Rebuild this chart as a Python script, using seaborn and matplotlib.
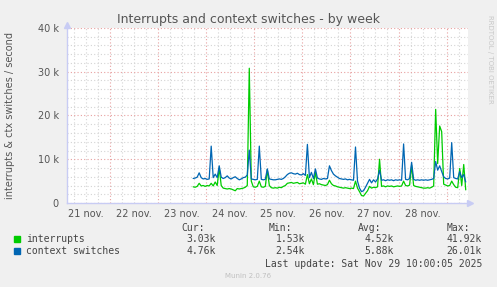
import numpy as np
import pandas as pd
import matplotlib
matplotlib.use("Agg")
import matplotlib.pyplot as plt
import matplotlib.dates as mdates
from matplotlib.ticker import MultipleLocator, FuncFormatter
from matplotlib.patches import Rectangle
import seaborn as sns

# ---------------- data (hourly, thousands per second) ----------------
start_time = "2025-11-23 17:30"
interrupts_k = [
    3.7, 3.6, 3.8, 4.5, 3.9, 4.0, 3.8, 4.0, 3.9, 4.5,
    3.9, 4.8, 4.0, 8.0, 4.0, 3.4, 3.3, 3.2, 3.3, 3.2,
    3.0, 2.8, 3.3, 3.2, 3.3, 3.4, 3.6, 4.0, 30.8, 5.0,
    3.7, 3.6, 3.8, 5.0, 3.7, 3.6, 3.8, 7.6, 4.0, 3.5,
    3.4, 3.5, 3.4, 3.6, 3.5, 3.8, 4.0, 4.5, 4.6, 4.7,
    4.5, 4.6, 4.7, 4.4, 4.5, 4.6, 4.3, 6.5, 4.4, 5.5,
    4.2, 7.0, 4.3, 4.4, 4.2, 4.1, 4.0, 4.2, 5.2, 4.4,
    4.0, 3.9, 3.7, 3.6, 3.5, 3.4, 3.5, 3.4, 3.3, 3.4,
    3.3, 5.0, 3.4, 2.6, 1.7, 1.6, 2.2, 2.8, 3.8, 3.4,
    3.6, 3.5, 3.7, 10.0, 3.8, 3.9, 3.7, 3.9, 3.8, 3.9,
    3.7, 3.8, 3.9, 3.8, 3.9, 5.0, 4.0, 3.9, 4.1, 8.6,
    4.0, 3.8, 3.7, 3.6, 3.5, 3.4, 3.4, 3.5, 3.4, 3.6,
    3.9, 21.4, 9.0, 17.6, 16.3, 4.3, 4.1, 3.9, 4.0, 5.0,
    4.2, 3.6, 3.5, 7.9, 4.0, 8.8, 3.0,
]
context_switches_k = [
    5.6, 5.7, 5.9, 6.9, 5.8, 5.5, 5.6, 5.4, 5.5, 13.0,
    5.8, 6.6, 5.8, 8.5, 5.9, 5.6, 5.8, 6.2, 5.7, 5.5,
    5.8, 6.0, 5.6, 5.3, 5.5, 5.8, 5.9, 6.4, 12.1, 5.5,
    5.4, 5.3, 5.4, 13.0, 5.4, 5.3, 5.4, 7.8, 5.5, 5.4,
    5.3, 5.3, 5.4, 5.5, 5.4, 5.6, 6.0, 6.5, 6.8, 6.9,
    6.7, 6.6, 6.8, 6.5, 6.4, 6.7, 6.3, 13.4, 5.8, 7.0,
    5.6, 7.8, 5.7, 5.5, 5.4, 5.6, 5.5, 5.6, 8.5, 7.4,
    6.6, 6.2, 5.9, 5.6, 5.5, 5.4, 5.5, 5.3, 5.4, 5.3,
    5.2, 12.8, 5.0, 3.4, 2.6, 2.8, 3.6, 4.5, 5.4, 4.6,
    5.3, 4.8, 5.5, 7.5, 5.2, 5.3, 5.1, 5.3, 5.2, 5.3,
    5.1, 5.3, 5.2, 5.3, 5.2, 13.5, 5.4, 5.3, 5.6, 9.3,
    5.4, 5.2, 5.3, 5.2, 5.3, 5.2, 5.3, 5.2, 5.3, 5.4,
    5.6, 9.5, 7.5, 8.5, 7.2, 6.0, 5.6, 5.5, 5.7, 13.8,
    5.8, 5.6, 5.5, 7.2, 5.8, 6.5, 4.8,
]
series_names = ["interrupts", "context switches"]
series_colors = ["#00CC00", "#0066B3"]
day_labels = ["21 nov.", "22 nov.", "23 nov.", "24 nov.",
              "25 nov.", "26 nov.", "27 nov.", "28 nov."]
y_ticks = [0, 10000, 20000, 30000, 40000]
y_tick_labels = ["0", "10 k", "20 k", "30 k", "40 k"]
legend_cur = ["3.03k", "4.76k"]
legend_min = ["1.53k", "2.54k"]
legend_avg = ["4.52k", "5.88k"]
legend_max = ["41.92k", "26.01k"]
view_start = "2025-11-21 02:33"
view_end = "2025-11-29 10:38"

# ---------------- build frame ----------------
times = pd.date_range(start_time, periods=len(interrupts_k), freq="h")
df = pd.concat([
    pd.DataFrame({"time": times, "value": np.array(interrupts_k) * 1000, "series": series_names[0]}),
    pd.DataFrame({"time": times, "value": np.array(context_switches_k) * 1000, "series": series_names[1]}),
])

sns.set_style("white")
plt.rcParams["font.family"] = ["DejaVu Sans"]

W, H = 497, 287
fig = plt.figure(figsize=(W / 100, H / 100), dpi=100, facecolor="#F0F0F0")
ax = fig.add_axes([67 / W, 1 - 203 / H, (468 - 67) / W, (203 - 28) / H])
ax.set_facecolor("white")

# grid
red = "#E8A0A0"
grey = "#D4D4D4"
ax.set_xlim(pd.Timestamp(view_start), pd.Timestamp(view_end))
ax.set_ylim(0, 40000)
ax.xaxis.set_major_locator(mdates.DayLocator())
ax.xaxis.set_minor_locator(mdates.HourLocator(byhour=[6, 12, 18]))
ax.xaxis.set_major_formatter(FuncFormatter(lambda v, p: ""))
label_map = {i + 21: lab for i, lab in enumerate(day_labels)}

def minor_fmt(v, p):
    d = mdates.num2date(v)
    if d.hour == 12:
        return label_map.get(d.day, "")
    return ""

ax.xaxis.set_minor_formatter(FuncFormatter(minor_fmt))
ax.set_yticks(y_ticks)
ax.set_yticklabels(y_tick_labels)
ax.yaxis.set_minor_locator(MultipleLocator(2000))

ax.grid(which="major", color=red, linestyle=(0, (1, 2)), linewidth=0.8)
ax.grid(which="minor", color=grey, linestyle=(0, (1, 2)), linewidth=0.8)
ax.set_axisbelow(True)

sns.lineplot(data=df, x="time", y="value", hue="series", hue_order=series_names,
             palette=series_colors, linewidth=0.9, legend=False, ax=ax)

ax.set_xlabel("")
ax.set_ylabel("interrupts & ctx switches / second", fontsize=7, color="#555555")
ax.yaxis.set_label_coords((15.5 - 67) / 401, 0.5)
ax.tick_params(axis="both", which="both", length=0, labelsize=7, colors="#555555")
ax.tick_params(axis="x", which="minor", pad=4)
ax.tick_params(axis="y", which="major", pad=6)

for s in ["top", "right"]:
    ax.spines[s].set_visible(False)
for s in ["left", "bottom"]:
    ax.spines[s].set_color("#C8CCF4")
    ax.spines[s].set_linewidth(1.0)
ax.plot([0], [1.02], marker="^", color="#C8CCF4", markersize=4, transform=ax.transAxes, clip_on=False)
ax.plot([1.005], [0], marker=">", color="#C8CCF4", markersize=4, transform=ax.transAxes, clip_on=False)

# title and side text
fig.text(0.5, 1 - 19 / H, "Interrupts and context switches - by week", ha="center", va="center",
         fontsize=9, color="#555555")
fig.text(490 / W, 1 - 15 / H, "RRDTOOL / TOBI OETIKER", rotation=270, ha="center", va="top",
         fontsize=5, color="#C8C8C8")

# legend block
mono = "DejaVu Sans Mono"
tc = "#444444"
fs = 7
def fy(y):
    return 1 - y / H
for hx, htxt in zip([181, 269, 358, 447], ["Cur:", "Min:", "Avg:", "Max:"]):
    fig.text(hx / W, fy(228), htxt, family=mono, fontsize=fs, color=tc, va="center", ha="left")
rows = [239, 251]
for i, name in enumerate(series_names):
    fig.patches.append(Rectangle((14 / W, fy(rows[i] + 3)), 6 / W, 6 / H,
                                 transform=fig.transFigure, color=series_colors[i], figure=fig))
    fig.text(26.5 / W, fy(rows[i]), name, family=mono, fontsize=fs, color=tc, va="center", ha="left")
    for vx, vals in zip([216, 305, 394, 482], [legend_cur, legend_min, legend_avg, legend_max]):
        fig.text(vx / W, fy(rows[i]), vals[i], family=mono, fontsize=fs, color=tc, va="center", ha="right")
fig.text(482 / W, fy(264), "Last update: Sat Nov 29 10:00:05 2025", family=mono, fontsize=fs,
         color=tc, va="center", ha="right")
fig.text(248 / W, fy(276.5), "Munin 2.0.76", fontsize=5, color="#C0C0C0", va="center", ha="center")

fig.savefig("out.png", dpi=100, facecolor=fig.get_facecolor())
